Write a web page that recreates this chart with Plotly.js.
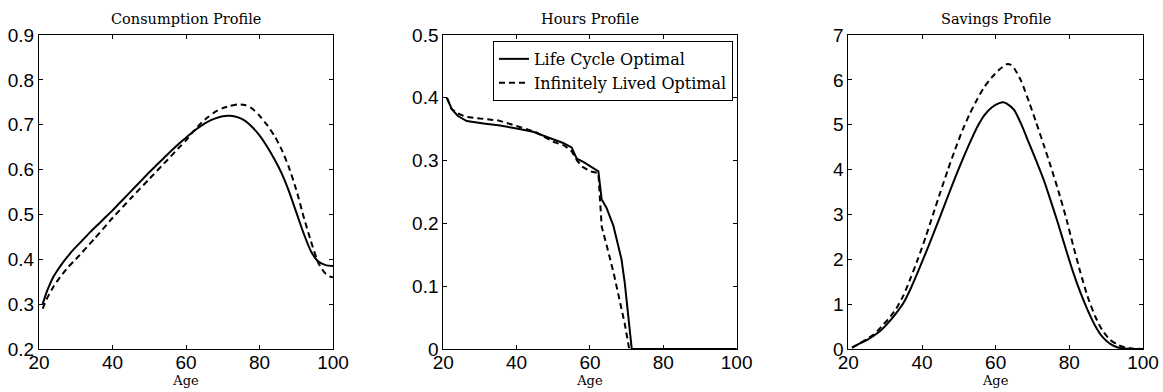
<!DOCTYPE html>
<html>
<head>
<meta charset="utf-8">
<script src="https://cdn.plot.ly/plotly-3.0.1.min.js"></script>
<style>html,body{margin:0;padding:0;background:#fff;}#chart{width:1163px;height:392px;}</style>
</head>
<body>
<div id="chart"></div>
<script>
// ---- Data ----
const seriesNames = ["Life Cycle Optimal", "Infinitely Lived Optimal"];
const panelTitles = ["Consumption Profile", "Hours Profile", "Savings Profile"];
const xTitle = "Age";

// Consumption profile
const consAgeLC = [21,22,23,24,25,26,27,28,29,30,32,34,36,38,40,42,44,46,48,50,52,54,56,58,60,62,64,66,68,70,72,74,76,78,80,82,84,86,88,90,92,94,96,98,100];
const consLC    = [0.300,0.325,0.345,0.362,0.375,0.387,0.398,0.408,0.418,0.427,0.444,0.461,0.477,0.493,0.509,0.526,0.543,0.560,0.577,0.594,0.610,0.626,0.642,0.657,0.671,0.685,0.697,0.707,0.714,0.719,0.720,0.717,0.709,0.695,0.676,0.652,0.624,0.592,0.552,0.505,0.458,0.418,0.395,0.387,0.385];
const consAgeIL = [21,22,24,26,28,30,35,40,45,50,55,58,60,62,64,66,68,70,72,74,76,78,80,82,84,86,88,90,92,94,96,97,98,99,100];
const consIL    = [0.290,0.310,0.340,0.363,0.383,0.400,0.445,0.492,0.536,0.579,0.622,0.648,0.665,0.685,0.703,0.717,0.729,0.737,0.742,0.745,0.744,0.736,0.720,0.700,0.676,0.645,0.605,0.555,0.495,0.440,0.392,0.378,0.368,0.362,0.360];

// Hours profile
const hoursAgeLC = [21,22.3,24,26.4,31,35.5,40,44.5,49,52.7,55,56.4,58.2,60,62.3,63.2,64.5,66.4,67.5,68.6,69.5,70.5,71.4,80,90,100];
const hoursLC    = [0.400,0.382,0.371,0.363,0.359,0.356,0.351,0.346,0.336,0.328,0.321,0.303,0.298,0.291,0.283,0.238,0.225,0.196,0.170,0.143,0.105,0.046,0,0,0,0];
const hoursAgeIL = [21,22.3,24,26,30,35,40,45,50,53,55,56.5,58,60,62.3,63.2,65,66.5,68,69.5,70.7,80,90,100];
const hoursIL    = [0.400,0.382,0.375,0.370,0.367,0.364,0.355,0.346,0.330,0.324,0.315,0.300,0.290,0.283,0.280,0.195,0.155,0.120,0.080,0.040,0,0,0,0];

// Savings profile
const savAgeLC = [21,23,25,27,29,31,33,35,37,39,41,43,45,47,49,51,53,55,57,59,61,62,63,65,67,69,71,73,75,77,79,81,83,85,87,89,91,93,95,97,100];
const savLC    = [0.03,0.12,0.20,0.30,0.43,0.60,0.80,1.03,1.36,1.74,2.14,2.55,2.97,3.40,3.82,4.22,4.60,4.95,5.22,5.39,5.48,5.50,5.47,5.33,5.00,4.60,4.20,3.78,3.29,2.78,2.24,1.72,1.26,0.86,0.52,0.27,0.12,0.04,0.01,0,0];
const savAgeIL = [21,23,25,27,29,31,33,35,37,39,41,43,45,47,49,51,53,55,57,59,61,63,64,65,67,69,71,73,75,77,79,81,83,85,87,89,91,93,95,97,100];
const savIL    = [0.03,0.12,0.22,0.33,0.50,0.68,0.90,1.20,1.60,2.03,2.50,3.00,3.50,3.99,4.45,4.88,5.25,5.57,5.85,6.06,6.23,6.35,6.34,6.26,5.96,5.52,5.05,4.56,4.06,3.53,2.96,2.32,1.71,1.16,0.73,0.41,0.21,0.10,0.04,0.01,0];

const xTicks = [20,40,60,80,100];

// ---- Traces ----
const solidS = {color:'#000', width:2, dash:'solid', shape:'spline', smoothing:0.6};
const dashedS = {color:'#000', width:2, dash:'6px,4px', shape:'spline', smoothing:0.6};
const solid = {color:'#000', width:2, dash:'solid'};
const dashed = {color:'#000', width:2, dash:'6px,4px'};
const traces = [
  {x:consAgeLC, y:consLC, xaxis:'x', yaxis:'y', mode:'lines', line:solidS, name:seriesNames[0], showlegend:false},
  {x:consAgeIL, y:consIL, xaxis:'x', yaxis:'y', mode:'lines', line:dashedS, name:seriesNames[1], showlegend:false},
  {x:hoursAgeLC, y:hoursLC, xaxis:'x2', yaxis:'y2', mode:'lines', line:solid, name:seriesNames[0], showlegend:true},
  {x:hoursAgeIL, y:hoursIL, xaxis:'x2', yaxis:'y2', mode:'lines', line:dashed, name:seriesNames[1], showlegend:true},
  {x:savAgeLC, y:savLC, xaxis:'x3', yaxis:'y3', mode:'lines', line:solidS, name:seriesNames[0], showlegend:false},
  {x:savAgeIL, y:savIL, xaxis:'x3', yaxis:'y3', mode:'lines', line:dashedS, name:seriesNames[1], showlegend:false}
];

const tickFont = {family:'"Liberation Sans", Arial, sans-serif', size:19, color:'#000'};
const serif = '"DejaVu Serif", "Liberation Serif", serif';

function xax(domain, anchor){
  return {domain:domain, anchor:anchor, range:[20,100], tickvals:xTicks, ticktext:xTicks.map(String),
    showline:true, linecolor:'#000', linewidth:1, mirror:'ticks', ticks:'inside', ticklen:4, tickcolor:'#000',
    showgrid:false, zeroline:false, tickfont:tickFont, ticklabelstandoff:-4,
    title:{text:xTitle, font:{family:serif, size:13, color:'#000'}, standoff:0}};
}
function yax(range, dtick, fmt, anchor){
  return {range:range, dtick:dtick, tick0:0, tickformat:fmt, anchor:anchor,
    showline:true, linecolor:'#000', linewidth:1, mirror:'ticks', ticks:'inside', ticklen:4, tickcolor:'#000',
    showgrid:false, zeroline:false, tickfont:tickFont};
}

const d1 = [0, 0.2663], d2 = [0.3662, 0.6319], d3 = [0.7331, 1];
const layout = {
  width:1163, height:392,
  margin:{l:39, r:20, t:35, b:43, pad:0},
  paper_bgcolor:'#fff', plot_bgcolor:'#fff',
  xaxis: xax(d1,'y'), yaxis: yax([0.2,0.9],0.1,'.1f','x'),
  xaxis2: xax(d2,'y2'), yaxis2: yax([0,0.5],0.1,'','x2'),
  xaxis3: xax(d3,'y3'), yaxis3: yax([0,7],1,'','x3'),
  showlegend:true,
  legend:{x:0.6286, y:0.981, xanchor:'right', yanchor:'top', xref:'paper', yref:'paper',
    bgcolor:'#fff', bordercolor:'#000', borderwidth:1,
    font:{family:serif, size:16, color:'#000'}, tracegroupgap:0, itemwidth:30},
  annotations: panelTitles.map((t,i)=>{
    const d=[d1,d2,d3][i];
    return {text:t, xref:'paper', yref:'paper', x:(d[0]+d[1])/2, y:1.05, xanchor:'center', yanchor:'middle',
      showarrow:false, font:{family:serif, size:14.5, color:'#000'}};
  })
};

Plotly.newPlot('chart', traces, layout, {staticPlot:true, displayModeBar:false});
</script>
</body>
</html>
